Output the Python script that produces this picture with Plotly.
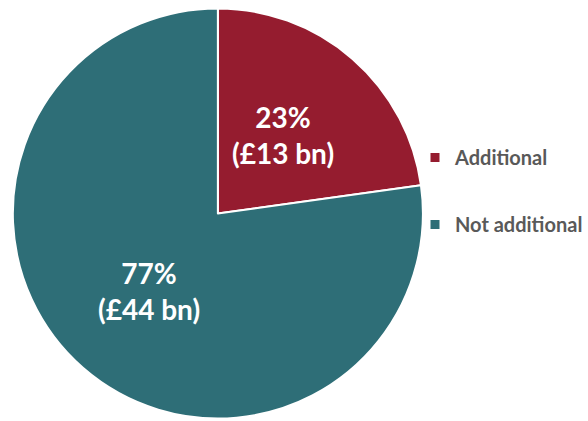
import math
import plotly.graph_objects as go

# Share of spending, £ billions
labels = ["Additional", "Not additional"]
values = [13, 44]
colors = ["#951C2F", "#2E6E77"]

W, H = 588, 421
cx, cy, r = 220.5, 213.5, 207.5  # pie domain centre and half-size in pixels
lx, ly, lr = 218.5, 213, 206     # visible centre and radius used for slice labels

fig = go.Figure()
fig.add_trace(go.Pie(
    labels=labels, values=values, sort=False, direction="clockwise",
    rotation=0, textinfo="none", hoverinfo="label+value+percent",
    marker=dict(colors=colors, line=dict(color="white", width=2)),
    domain=dict(x=[max(0, (cx - r) / W), min(1, (cx + r) / W)],
                y=[max(0, (H - cy - r) / H), min(1, (H - cy + r) / H)]),
    showlegend=False,
))

# Legend entries as marker-only traces so the gap between them can be set
for lab, col in zip(labels, colors):
    fig.add_trace(go.Scatter(
        x=[None], y=[None], mode="markers", name=lab, legendgroup=lab,
        marker=dict(symbol="square", size=9, color=col),
    ))

# Slice labels at the middle angle of each slice
total = sum(values)
start = 0.0
for v in values:
    frac = v / total
    mid = (start + frac / 2) * 2 * math.pi
    start += frac
    px = lx + 0.5 * lr * math.sin(mid)
    py = ly - 0.5 * lr * math.cos(mid)
    fig.add_annotation(
        x=px / W, y=1 - py / H, xref="paper", yref="paper",
        xanchor="center", yanchor="middle",
        text=f"{round(frac * 100)}%<br>(£{v} bn)", showarrow=False,
        font=dict(family="Lato", size=28, color="white", weight="bold"),
        align="center",
    )

fig.update_layout(
    width=W, height=H, margin=dict(l=0, r=0, t=0, b=0),
    paper_bgcolor="white", plot_bgcolor="white",
    xaxis=dict(visible=False), yaxis=dict(visible=False),
    legend=dict(x=420 / W, y=1 - 138 / H, xanchor="left", yanchor="top",
                bgcolor="rgba(0,0,0,0)",
                font=dict(family="Lato", size=20, color="#595959", weight="bold"),
                tracegroupgap=38, itemwidth=30),
)

fig.write_html("out.html")
